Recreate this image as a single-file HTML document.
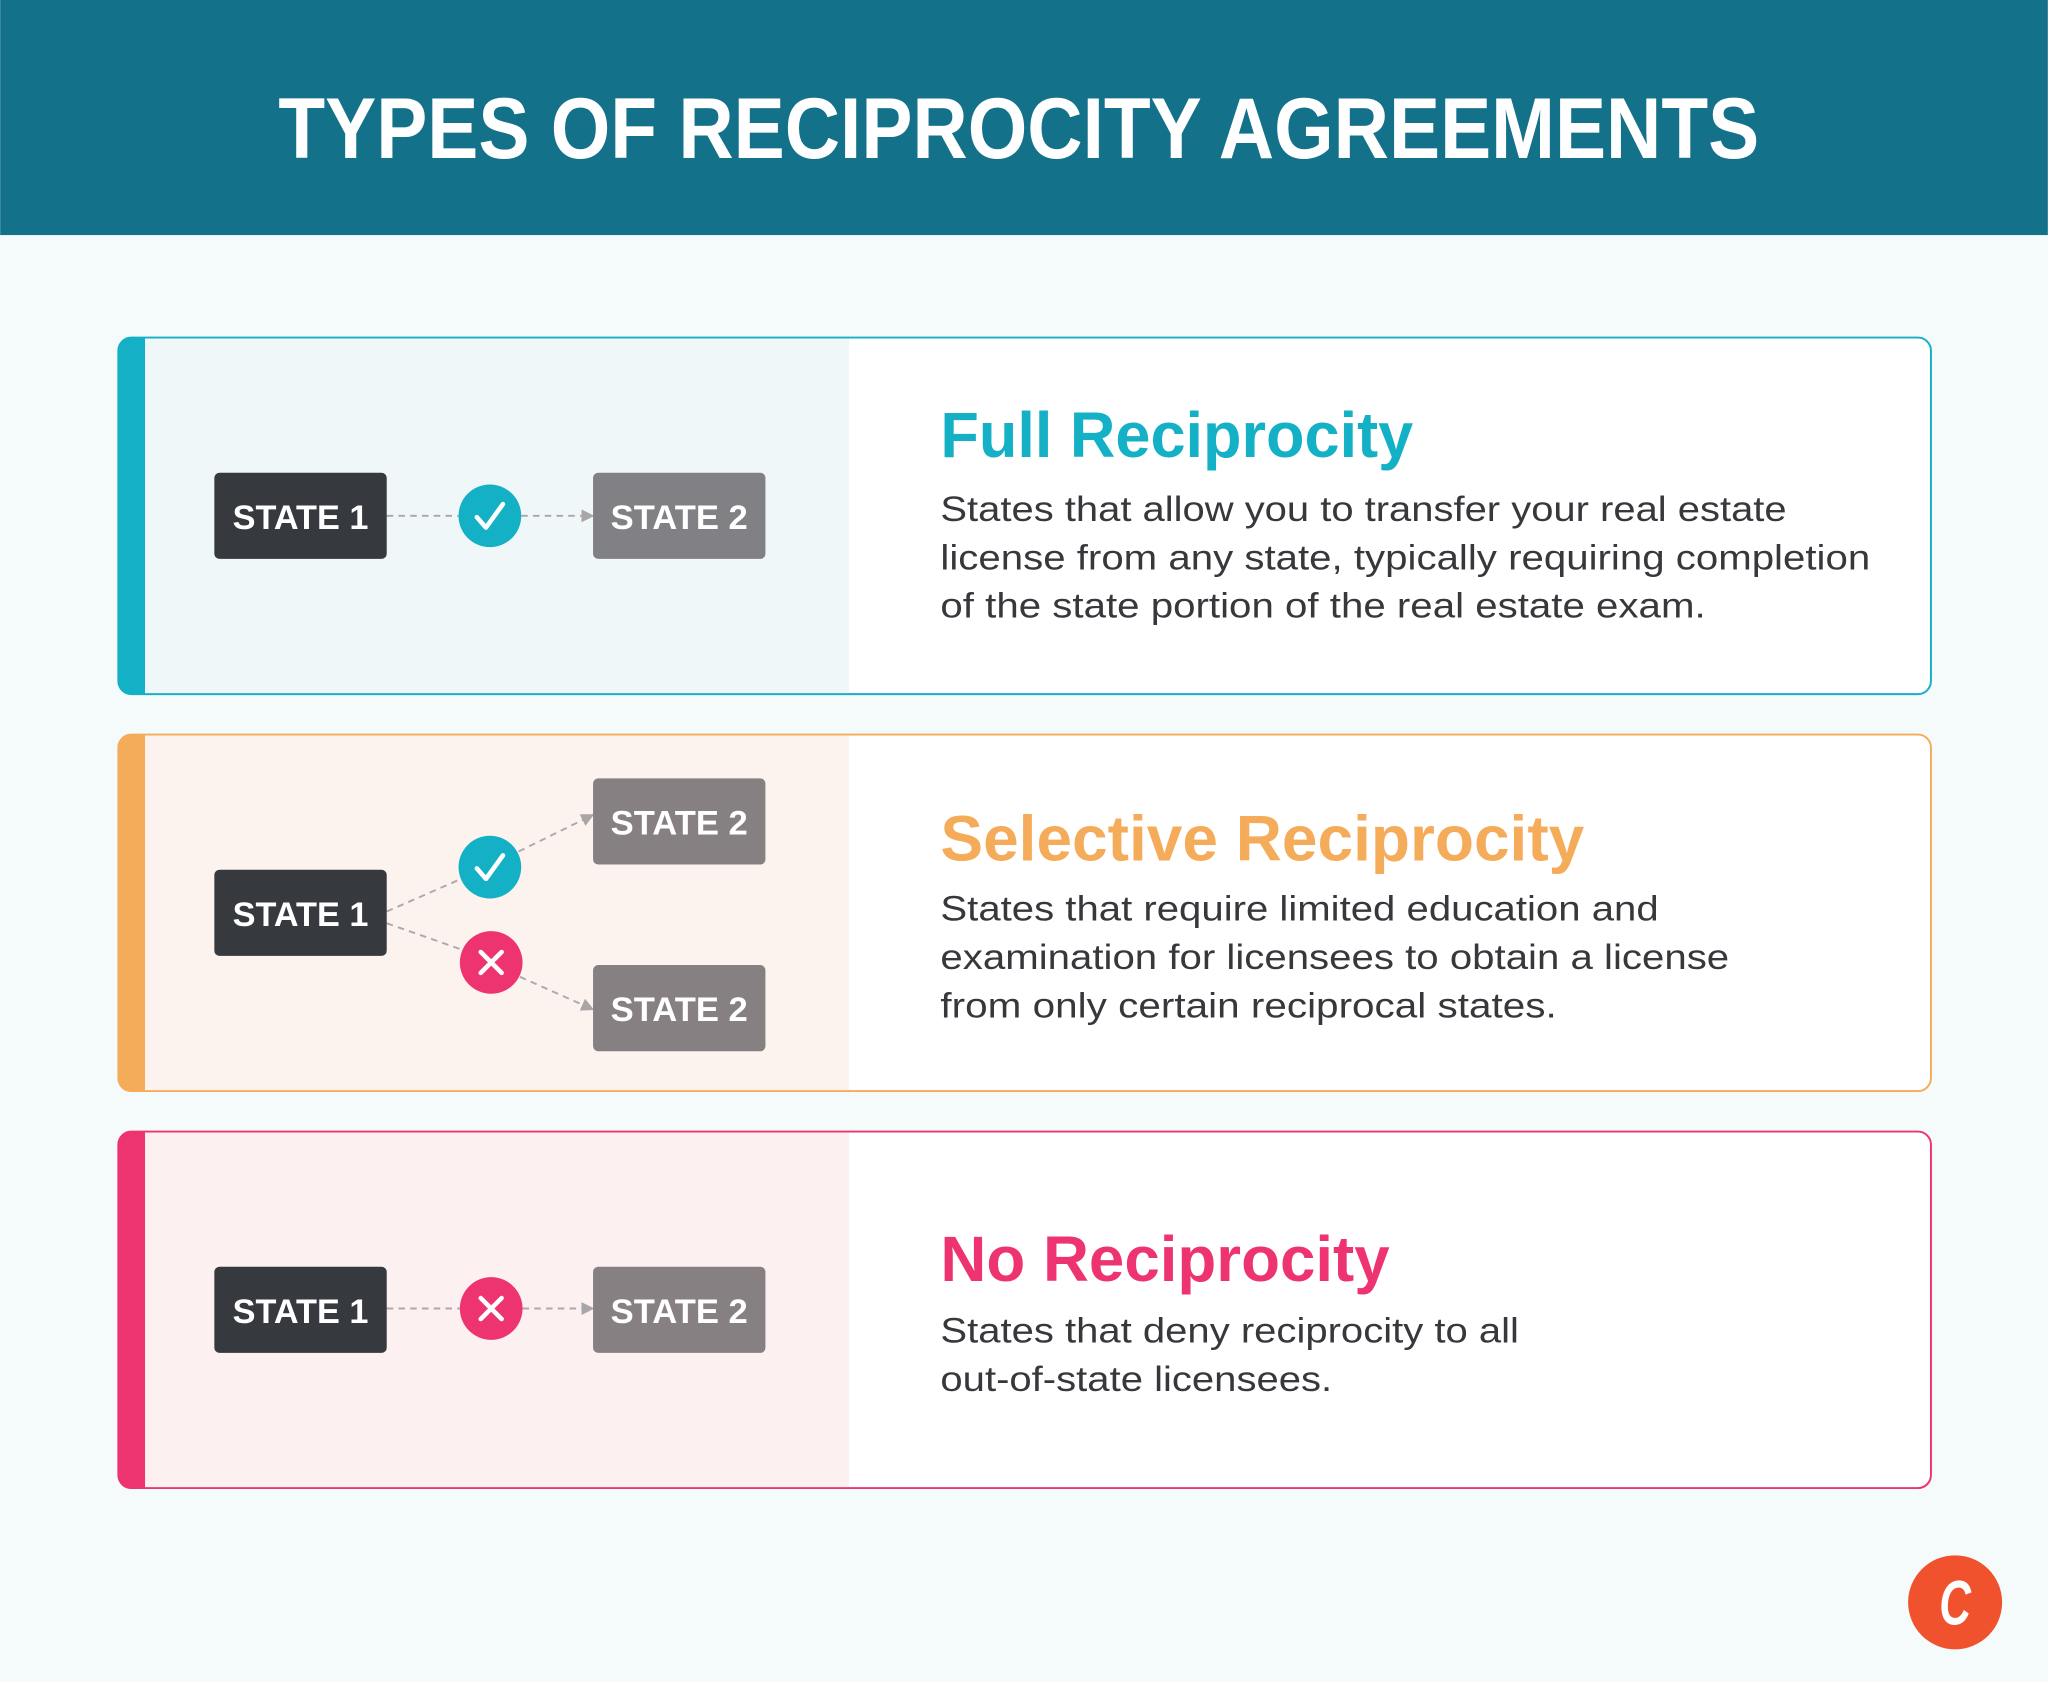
<!DOCTYPE html>
<html><head><meta charset="utf-8"><style>html,body{margin:0;padding:0;background:#f5fafb}svg{display:block}</style></head>
<body>
<svg width="2048" height="1682" viewBox="0 0 1568 1288" xmlns="http://www.w3.org/2000/svg" font-family="Liberation Sans, sans-serif">
<defs>
<marker id="ah" viewBox="0 0 10 10" refX="9" refY="5" markerWidth="10" markerHeight="10" markerUnits="userSpaceOnUse" orient="auto"><path d="M0,0 L10,5 L0,10 z" fill="#a8a6a8"/></marker>
</defs>
<rect width="1568" height="1288" fill="#f5fafb"/>
<rect width="1568" height="180" fill="#14718a"/>
<text x="780" y="121" text-anchor="middle" font-size="66" font-weight="bold" fill="#fff" textLength="1134" lengthAdjust="spacingAndGlyphs">TYPES OF RECIPROCITY AGREEMENTS</text>

<!-- Card 1 -->
<rect x="90.5" y="258.5" width="1388" height="273" rx="10" fill="#fff" stroke="#14b1c6" stroke-width="1.5"/>
<path d="M100,258.5 H111 V531.5 H100 A10,10 0 0 1 90,521.5 V268.5 A10,10 0 0 1 100,258.5 z" fill="#14b1c6"/>
<rect x="111" y="259.3" width="539" height="271.4" fill="#eff7f9"/>
<line x1="296" y1="395" x2="351" y2="395" stroke="#a8a6a8" stroke-width="1.5" stroke-dasharray="5,4"/>
<line x1="399" y1="395" x2="454" y2="395" stroke="#a8a6a8" stroke-width="1.5" stroke-dasharray="5,4" marker-end="url(#ah)"/>
<rect x="164" y="362" width="132" height="66" rx="4" fill="#36393e"/>
<rect x="454" y="362" width="132" height="66" rx="4" fill="#808085"/>
<text x="230" y="405" text-anchor="middle" font-size="26" font-weight="bold" fill="#fff" textLength="104" lengthAdjust="spacingAndGlyphs">STATE 1</text>
<text x="520" y="405" text-anchor="middle" font-size="26" font-weight="bold" fill="#fff" textLength="105" lengthAdjust="spacingAndGlyphs">STATE 2</text>
<circle cx="375" cy="395" r="24" fill="#14b1c6"/>
<path d="M365,396 L372,404 L385,386" fill="none" stroke="#fff" stroke-width="3.5" stroke-linecap="round" stroke-linejoin="round"/>
<text x="720" y="350" font-size="49" font-weight="bold" fill="#14b1c6" textLength="362" lengthAdjust="spacingAndGlyphs">Full Reciprocity</text>
<g font-size="27" fill="#37383c">
<text x="720" y="399" textLength="648" lengthAdjust="spacingAndGlyphs">States that allow you to transfer your real estate</text>
<text x="720" y="436" textLength="712" lengthAdjust="spacingAndGlyphs">license from any state, typically requiring completion</text>
<text x="720" y="473" textLength="586" lengthAdjust="spacingAndGlyphs">of the state portion of the real estate exam.</text>
</g>

<!-- Card 2 -->
<rect x="90.5" y="562.5" width="1388" height="273" rx="10" fill="#fff" stroke="#f5ac5a" stroke-width="1.5"/>
<path d="M100,562.5 H111 V835.5 H100 A10,10 0 0 1 90,825.5 V572.5 A10,10 0 0 1 100,562.5 z" fill="#f5ac5a"/>
<rect x="111" y="563.3" width="539" height="271.4" fill="#fdf3ee"/>
<line x1="296" y1="698" x2="353" y2="673" stroke="#b0a9ab" stroke-width="1.5" stroke-dasharray="5,4"/>
<line x1="397" y1="652" x2="454" y2="624" stroke="#b0a9ab" stroke-width="1.5" stroke-dasharray="5,4" marker-end="url(#ah)"/>
<line x1="296" y1="707" x2="353" y2="727" stroke="#b0a9ab" stroke-width="1.5" stroke-dasharray="5,4"/>
<line x1="398" y1="748" x2="454" y2="773" stroke="#b0a9ab" stroke-width="1.5" stroke-dasharray="5,4" marker-end="url(#ah)"/>
<rect x="164" y="666" width="132" height="66" rx="4" fill="#36393e"/>
<rect x="454" y="596" width="132" height="66" rx="4" fill="#878082"/>
<rect x="454" y="739" width="132" height="66" rx="4" fill="#878082"/>
<text x="230" y="709" text-anchor="middle" font-size="26" font-weight="bold" fill="#fff" textLength="104" lengthAdjust="spacingAndGlyphs">STATE 1</text>
<text x="520" y="639" text-anchor="middle" font-size="26" font-weight="bold" fill="#fff" textLength="105" lengthAdjust="spacingAndGlyphs">STATE 2</text>
<text x="520" y="782" text-anchor="middle" font-size="26" font-weight="bold" fill="#fff" textLength="105" lengthAdjust="spacingAndGlyphs">STATE 2</text>
<circle cx="375" cy="664" r="24" fill="#14b1c6"/>
<path d="M365,665 L372,673 L385,655" fill="none" stroke="#fff" stroke-width="3.5" stroke-linecap="round" stroke-linejoin="round"/>
<circle cx="376" cy="737" r="24" fill="#ee3470"/>
<path d="M368,729 L384,745 M384,729 L368,745" stroke="#fff" stroke-width="3.5" stroke-linecap="round"/>
<text x="720" y="659" font-size="49" font-weight="bold" fill="#f5ac5a" textLength="493" lengthAdjust="spacingAndGlyphs">Selective Reciprocity</text>
<g font-size="27" fill="#37383c">
<text x="720" y="705" textLength="550" lengthAdjust="spacingAndGlyphs">States that require limited education and</text>
<text x="720" y="742" textLength="604" lengthAdjust="spacingAndGlyphs">examination for licensees to obtain a license</text>
<text x="720" y="779" textLength="472" lengthAdjust="spacingAndGlyphs">from only certain reciprocal states.</text>
</g>

<!-- Card 3 -->
<rect x="90.5" y="866.5" width="1388" height="273" rx="10" fill="#fff" stroke="#ee3470" stroke-width="1.5"/>
<path d="M100,866.5 H111 V1139.5 H100 A10,10 0 0 1 90,1129.5 V876.5 A10,10 0 0 1 100,866.5 z" fill="#ee3470"/>
<rect x="111" y="867.3" width="539" height="271.4" fill="#fcf0f1"/>
<line x1="296" y1="1002" x2="352" y2="1002" stroke="#b0a9ab" stroke-width="1.5" stroke-dasharray="5,4"/>
<line x1="400" y1="1002" x2="454" y2="1002" stroke="#b0a9ab" stroke-width="1.5" stroke-dasharray="5,4" marker-end="url(#ah)"/>
<rect x="164" y="970" width="132" height="66" rx="4" fill="#36393e"/>
<rect x="454" y="970" width="132" height="66" rx="4" fill="#878082"/>
<text x="230" y="1013" text-anchor="middle" font-size="26" font-weight="bold" fill="#fff" textLength="104" lengthAdjust="spacingAndGlyphs">STATE 1</text>
<text x="520" y="1013" text-anchor="middle" font-size="26" font-weight="bold" fill="#fff" textLength="105" lengthAdjust="spacingAndGlyphs">STATE 2</text>
<circle cx="376" cy="1002" r="24" fill="#ee3470"/>
<path d="M368,994 L384,1010 M384,994 L368,1010" stroke="#fff" stroke-width="3.5" stroke-linecap="round"/>
<text x="720" y="981" font-size="49" font-weight="bold" fill="#ee3470" textLength="344" lengthAdjust="spacingAndGlyphs">No Reciprocity</text>
<g font-size="27" fill="#37383c">
<text x="720" y="1028" textLength="443" lengthAdjust="spacingAndGlyphs">States that deny reciprocity to all</text>
<text x="720" y="1065" textLength="300" lengthAdjust="spacingAndGlyphs">out-of-state licensees.</text>
</g>

<!-- Logo -->
<circle cx="1497" cy="1227" r="36" fill="#f0522e"/>
<text x="1497" y="1244" text-anchor="middle" font-size="48" font-weight="bold" font-style="italic" fill="#fff" transform="translate(1497 1227) scale(0.7 1) translate(-1497 -1227)">C</text>
</svg>
</body></html>
